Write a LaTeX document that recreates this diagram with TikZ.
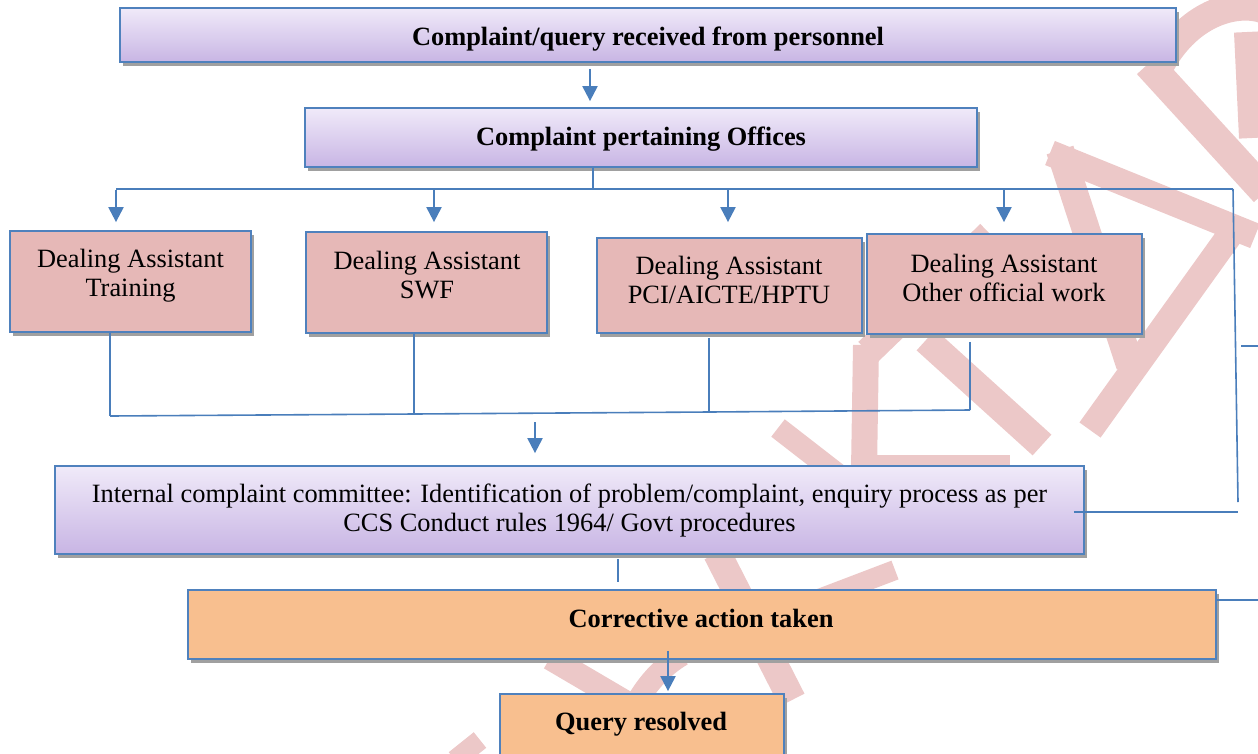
\documentclass[tikz,border=0pt]{standalone}
\usepackage{fontspec}
\setmainfont{Liberation Serif}
\usetikzlibrary{arrows.meta,shadows,calc}
\definecolor{bl}{RGB}{74,126,187}
\definecolor{bord}{RGB}{79,129,189}
\definecolor{lavtop}{RGB}{240,234,249}
\definecolor{lavbot}{RGB}{200,181,228}
\definecolor{dafill}{RGB}{230,184,183}
\definecolor{orfill}{RGB}{248,191,143}
\definecolor{shad}{RGB}{160,160,160}
\definecolor{wmc}{RGB}{236,200,200}
\begin{document}
\begin{tikzpicture}[x=1pt,y=-1pt,
  box/.style={draw=bord,line width=1.8pt,inner sep=0pt,
    drop shadow={shadow xshift=3pt,shadow yshift=-4pt,fill=shad,opacity=1}},
  lav/.style={box,top color=lavtop,bottom color=lavbot},
  da/.style={box,fill=dafill},
  org/.style={box,fill=orfill},
  txt/.style={font=\fontsize{26.4}{29}\selectfont,align=center,inner sep=0pt},
  btxt/.style={font=\fontsize{26.4}{29}\selectfont\bfseries,align=center,inner sep=0pt},
  conn/.style={draw=bl,line width=1.6pt},
  arr/.style={draw=bl,line width=2.2pt,-{Triangle[width=15pt,length=15pt]}},
  wm/.style={draw=wmc,line cap=butt},
]
\useasboundingbox (0,0) rectangle (1258,753);

% watermark
\draw[wm,line width=30pt] (1148,64) -- (1265,192);
\draw[wm,line width=28pt] (1160,66) .. controls (1190,10) and (1240,0) .. (1265,10);
\draw[wm,line width=26pt] (1247,32) -- (1252,138);
\draw[wm,line width=26pt] (1050,153) -- (1255,236);
\draw[wm,line width=28pt] (1060,150) -- (1130,365);
\draw[wm,line width=26pt] (1232,232) -- (1090,430);
\draw[wm,line width=28pt] (990,234) -- (868,352);
\draw[wm,line width=26pt] (866,345) -- (864,470);
\draw[wm,line width=16pt] (860,463) -- (1010,463);
\draw[wm,line width=28pt] (926,340) -- (1042,445);
\draw[wm,line width=22pt] (778,428) -- (845,480);
\draw[wm,line width=28pt] (717,553) -- (792,700);
\draw[wm,line width=20pt] (790,610) -- (895,570);
\draw[wm,line width=24pt] (550,658) -- (630,705);
\draw[wm,line width=22pt] (638,700) .. controls (650,680) and (665,665) .. (682,655);
\draw[wm,line width=20pt] (455,760) -- (480,740);

% boxes
\node[lav,minimum width=1056pt,minimum height=54pt] (b1) at (648,35) {};
\node[btxt] (t1) at (648,40) {\strut Complaint/query received from personnel};
\node[lav,minimum width=672pt,minimum height=59pt] (b2) at (641,137.5) {};
\node[btxt] (t2) at (641,139.5) {\strut Complaint pertaining Offices};

\node[da,minimum width=241pt,minimum height=101pt] (da1) at (130.5,281.5) {};
\node[txt] (dt1) at (130.5,276.5) {\strut Dealing Assistant\\\strut Training};
\node[da,minimum width=241pt,minimum height=101pt] (da2) at (426.5,282.5) {};
\node[txt] (dt2) at (427,278) {\strut Dealing Assistant\\\strut SWF};
\node[da,minimum width=265pt,minimum height=95pt] (da3) at (729.5,285.5) {};
\node[txt] (dt3) at (729,283.5) {\strut Dealing Assistant\\\strut PCI/AICTE/HPTU};
\node[da,minimum width=275pt,minimum height=100pt] (da4) at (1004.5,284) {};
\node[txt] (dt4) at (1004,281) {\strut Dealing Assistant\\\strut Other official work};

\node[lav,minimum width=1029pt,minimum height=88pt] (icc) at (569.5,510) {};
\node[txt] (it) at (569.5,511.5) {\strut Internal complaint committee: Identification of problem/complaint, enquiry process as per\\\strut CCS Conduct rules 1964/ Govt procedures};

\node[org,minimum width=1028pt,minimum height=69pt] (ca) at (702,624.5) {};
\node[btxt] (ct) at (701,621.5) {\strut Corrective action taken};
\node[org,minimum width=284pt,minimum height=74pt] (qr) at (642,731) {};
\node[btxt] (qt) at (641,724.5) {\strut Query resolved};

% coordinates
\coordinate (x1) at (590,0);
\coordinate (x2) at (593,0);
\coordinate (busL) at (116,189);
\coordinate (busR) at (1233,189);
\coordinate (d2x) at (434,189);
\coordinate (d3x) at (728,189);
\coordinate (d4x) at (1004,189);
\coordinate (rb) at (1238,502);
\coordinate (rh) at (1238,512);
\coordinate (e1s) at (1241,346);
\coordinate (e1) at (1260,346);
\coordinate (e2) at (1260,600);
\coordinate (j1) at (110,416);
\coordinate (j2) at (414,414);
\coordinate (j3) at (709,412);
\coordinate (j4) at (970,410);
\coordinate (x5) at (535,422);
\coordinate (x6) at (618,0);
\coordinate (x7) at (668,0);

% connectors
\draw[arr] ($(b1.south -| x1)+(0,6)$) -- ($(b2.north -| x1)+(0,-6)$);
\draw[conn] (b2.south -| x2) -- (x2 |- busL);
\draw[conn] (busL) -- (busR);
\draw[arr] ($(busL)+(0,1)$) -- ($(da1.north -| busL)+(0,-8)$);
\draw[arr] ($(d2x)+(0,1)$) -- ($(da2.north -| d2x)+(0,-9)$);
\draw[arr] ($(d3x)+(0,1)$) -- ($(da3.north -| d3x)+(0,-15)$);
\draw[arr] ($(d4x)+(0,1)$) -- ($(da4.north -| d4x)+(0,-11)$);
\draw[conn] (busR) -- (rb);
\draw[conn] ($(icc.east)+(-11,2)$) -- (rh);
\draw[conn] (e1s) -- (e1);
\draw[conn] (ca.east |- e2) -- (e2);

\draw[conn] (da1.south -| j1) -- (j1);
\draw[conn] (da2.south -| j2) -- (j2);
\draw[conn] ($(da3.south -| j3)+(0,4)$) -- (j3);
\draw[conn] ($(da4.south -| j4)+(0,7)$) -- (j4);
\draw[conn] (j1) -- (j2) -- (j3) -- (j4);

\draw[arr] (x5) -- ($(icc.north -| x5)+(0,-12)$);
\draw[conn] ($(icc.south -| x6)+(0,4)$) -- ($(ca.north -| x6)+(0,-7)$);
\draw[arr] ($(ca.south -| x7)+(0,-9)$) -- ($(qr.north -| x7)+(0,-2)$);
\end{tikzpicture}
\end{document}
